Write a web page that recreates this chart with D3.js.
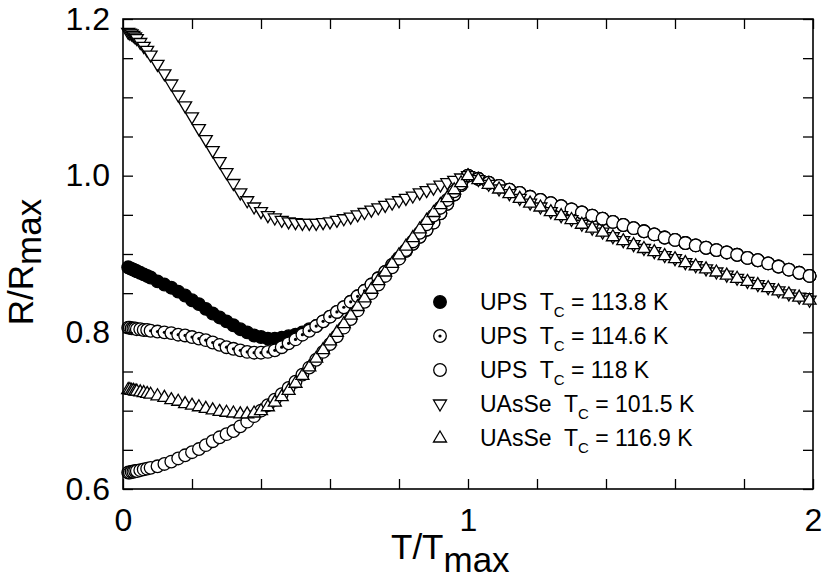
<!DOCTYPE html>
<meta charset="utf-8">
<style>
body { margin: 0; background: #fff; }
svg { font-family: "Liberation Sans", Arial, sans-serif; }
.axis path { display: none; }
.axis line { stroke: #000; stroke-width: 1.3px; }
.frame { fill: none; stroke: #000; stroke-width: 1.6px; }
</style>
<svg width="823" height="580"></svg>
<script src="https://cdn.jsdelivr.net/npm/d3@7"></script>
<script>

// T/T_max sampling below and above the peak
var xLow = [0.015, 0.02, 0.025, 0.03, 0.035, 0.04, 0.05, 0.06, 0.07, 0.08,
  0.10, 0.12, 0.14, 0.16, 0.18, 0.20, 0.22, 0.24, 0.26, 0.28,
  0.30, 0.32, 0.34, 0.36, 0.38, 0.40, 0.42, 0.44, 0.46, 0.48,
  0.50, 0.52, 0.54, 0.56, 0.58, 0.60, 0.62, 0.64, 0.66, 0.68,
  0.70, 0.72, 0.74, 0.76, 0.78, 0.80, 0.82, 0.84, 0.86, 0.88,
  0.90, 0.92, 0.94, 0.96, 0.98, 1.00];
var xHigh = [1.03, 1.06, 1.09, 1.12, 1.15, 1.18, 1.21, 1.24, 1.27, 1.30,
  1.33, 1.36, 1.39, 1.42, 1.45, 1.48, 1.51, 1.54, 1.57, 1.60,
  1.63, 1.66, 1.69, 1.72, 1.75, 1.78, 1.81, 1.84, 1.87, 1.90,
  1.93, 1.96, 1.99];

// R/R_max below T_max
var uas1015Low = [1.183, 1.182, 1.181, 1.179, 1.177, 1.175, 1.170, 1.165, 1.160, 1.154,
  1.142, 1.130, 1.117, 1.103, 1.089, 1.075, 1.060, 1.046, 1.032, 1.018,
  1.004, 0.990, 0.978, 0.968, 0.960, 0.954, 0.949, 0.946, 0.943, 0.941,
  0.940, 0.939, 0.939, 0.939, 0.940, 0.941, 0.943, 0.945, 0.947, 0.950,
  0.953, 0.956, 0.959, 0.962, 0.965, 0.968, 0.971, 0.974, 0.978, 0.981,
  0.984, 0.988, 0.991, 0.994, 0.997, 1.000];
var uas1169Low = [0.727, 0.727, 0.726, 0.726, 0.725, 0.725, 0.724, 0.723, 0.722, 0.721,
  0.719, 0.717, 0.714, 0.712, 0.709, 0.707, 0.705, 0.703, 0.701, 0.699,
  0.698, 0.697, 0.696, 0.696, 0.697, 0.700, 0.705, 0.711, 0.718, 0.726,
  0.735, 0.745, 0.756, 0.767, 0.778, 0.789, 0.800, 0.811, 0.822, 0.833,
  0.844, 0.855, 0.866, 0.877, 0.888, 0.899, 0.910, 0.921, 0.932, 0.943,
  0.953, 0.963, 0.972, 0.982, 0.991, 1.000];
var ups118Low = [0.621, 0.621, 0.622, 0.622, 0.623, 0.623, 0.624, 0.625, 0.626, 0.627,
  0.629, 0.632, 0.635, 0.639, 0.643, 0.647, 0.651, 0.656, 0.661, 0.666,
  0.670, 0.674, 0.680, 0.686, 0.693, 0.700, 0.707, 0.714, 0.721, 0.729,
  0.737, 0.746, 0.755, 0.765, 0.775, 0.785, 0.795, 0.806, 0.817, 0.828,
  0.839, 0.850, 0.861, 0.872, 0.883, 0.894, 0.905, 0.916, 0.927, 0.938,
  0.949, 0.959, 0.969, 0.980, 0.990, 1.000];
var ups1146Low = [0.806, 0.806, 0.805, 0.805, 0.805, 0.804, 0.804, 0.803, 0.803, 0.802,
  0.801, 0.800, 0.799, 0.797, 0.796, 0.794, 0.792, 0.790, 0.787, 0.784,
  0.781, 0.779, 0.777, 0.775, 0.774, 0.774, 0.775, 0.777, 0.781, 0.786,
  0.791, 0.797, 0.802, 0.808, 0.814, 0.820, 0.826, 0.832, 0.839, 0.846,
  0.853, 0.861, 0.869, 0.877, 0.886, 0.895, 0.904, 0.913, 0.922, 0.931,
  0.940, 0.952, 0.964, 0.976, 0.988, 1.000];
var ups1138Low = [0.883, 0.882, 0.881, 0.880, 0.879, 0.878, 0.876, 0.874, 0.872, 0.870,
  0.865, 0.861, 0.857, 0.852, 0.847, 0.841, 0.836, 0.830, 0.824, 0.819,
  0.814, 0.809, 0.804, 0.800, 0.796, 0.794, 0.792, 0.792, 0.793, 0.795,
  0.797, 0.800, 0.804, 0.808, 0.814, 0.820, 0.826, 0.832, 0.839, 0.846,
  0.853, 0.861, 0.869, 0.877, 0.886, 0.895, 0.904, 0.913, 0.922, 0.931,
  0.940, 0.952, 0.964, 0.976, 0.988, 1.000];

// above T_max the samples of each compound fall on one curve
var upsHigh = [0.996, 0.991, 0.987, 0.982, 0.978, 0.973, 0.969, 0.965, 0.961, 0.957,
  0.953, 0.949, 0.945, 0.941, 0.937, 0.933, 0.929, 0.925, 0.921, 0.918,
  0.914, 0.911, 0.908, 0.905, 0.902, 0.899, 0.895, 0.892, 0.888, 0.884,
  0.880, 0.876, 0.872];
var uasHigh = [0.995, 0.989, 0.983, 0.977, 0.971, 0.965, 0.960, 0.954, 0.949, 0.944,
  0.938, 0.933, 0.928, 0.922, 0.917, 0.912, 0.907, 0.903, 0.898, 0.894,
  0.889, 0.885, 0.881, 0.877, 0.873, 0.869, 0.865, 0.861, 0.857, 0.853,
  0.849, 0.845, 0.841];

var compounds = ["UPS", "UPS", "UPS", "UAsSe", "UAsSe"];
var tcValues = ["113.8", "114.6", "118", "101.5", "116.9"];
var markers = ["filled", "dotted", "open", "down", "up"];

var xTicks = [0, 0.2, 0.4, 0.6, 0.8, 1, 1.2, 1.4, 1.6, 1.8, 2];
var xLabels = [0, 1, 2];
var yTicks = [0.6, 0.65, 0.7, 0.75, 0.8, 0.85, 0.9, 0.95, 1.0, 1.05, 1.1, 1.15, 1.2];
var yLabels = [0.6, 0.8, 1.0, 1.2];

var svg = d3.select("svg"),
    plotL = 123, plotR = 813, plotT = 19, plotB = 489;

var x = d3.scaleLinear().domain([0, 2]).range([plotL, plotR]),
    y = d3.scaleLinear().domain([0.6, 1.2]).range([plotB, plotT]);

function points(xs, ys) {
  return xs.map(function(v, i) { return [v, ys[i]]; });
}

var series = [
  {marker: "filled", values: points(xLow, ups1138Low).concat(points(xHigh, upsHigh))},
  {marker: "dotted", values: points(xLow, ups1146Low).concat(points(xHigh, upsHigh))},
  {marker: "open",   values: points(xLow, ups118Low).concat(points(xHigh, upsHigh))},
  {marker: "down",   values: points(xLow, uas1015Low).concat(points(xHigh, uasHigh))},
  {marker: "up",     values: points(xLow, uas1169Low).concat(points(xHigh, uasHigh))}
];

// draw one marker of the given kind into selection g
function drawMarker(g, kind) {
  if (kind === "up" || kind === "down") {
    var s = kind === "up" ? 1 : -1;
    g.append("path")
      .attr("d", "M0," + (-7 * s) + "L6.5," + (4 * s) + "L-6.5," + (4 * s) + "Z")
      .attr("fill", "#fff").attr("stroke", "#000").attr("stroke-width", 1.3);
  } else {
    g.append("circle").attr("r", 6.3)
      .attr("fill", kind === "filled" ? "#000" : "#fff")
      .attr("stroke", "#000").attr("stroke-width", 1.3);
    if (kind === "dotted") g.append("circle").attr("r", 1.6).attr("fill", "#000");
  }
}

series.forEach(function(s) {
  svg.append("g").selectAll("g")
    .data(s.values)
    .enter().append("g")
      .attr("transform", function(d) { return "translate(" + x(d[0]) + "," + y(d[1]) + ")"; })
      .each(function() { drawMarker(d3.select(this), s.marker); });
});

// axes, ticks pointing inward on all four sides
svg.append("g").attr("class", "axis")
    .attr("transform", "translate(0," + plotB + ")")
    .call(d3.axisBottom(x).tickValues(xTicks).tickSizeInner(-10).tickSizeOuter(0).tickPadding(19)
      .tickFormat(function(d) { return xLabels.indexOf(d) >= 0 ? d : ""; }))
    .selectAll("text").style("font-size", "32px").attr("fill", "#000");

svg.append("g").attr("class", "axis")
    .attr("transform", "translate(0," + plotT + ")")
    .call(d3.axisTop(x).tickValues(xTicks).tickSizeInner(-10).tickSizeOuter(0).tickFormat(""));

svg.append("g").attr("class", "axis")
    .attr("transform", "translate(" + plotL + ",0)")
    .call(d3.axisLeft(y).tickValues(yTicks).tickSizeInner(-10).tickSizeOuter(0).tickPadding(13)
      .tickFormat(function(d) { return yLabels.indexOf(d) >= 0 ? d3.format(".1f")(d) : ""; }))
    .selectAll("text").style("font-size", "32px").attr("fill", "#000");

svg.append("g").attr("class", "axis")
    .attr("transform", "translate(" + plotR + ",0)")
    .call(d3.axisRight(y).tickValues(yTicks).tickSizeInner(-10).tickSizeOuter(0).tickFormat(""));

svg.append("rect").attr("class", "frame")
    .attr("x", plotL).attr("y", plotT)
    .attr("width", plotR - plotL).attr("height", plotB - plotT);

// axis titles
var xt = svg.append("text").attr("x", 391).attr("y", 559).style("font-size", "35px");
xt.append("tspan").text("T/T");
xt.append("tspan").attr("dy", 13).text("max");

var yt = svg.append("text")
    .attr("transform", "translate(33,262) rotate(-90)")
    .attr("text-anchor", "middle")
    .style("font-size", "35px");
yt.append("tspan").text("R/R");
yt.append("tspan").attr("dy", 8).text("max");

// legend
var legend = svg.append("g").selectAll("g")
  .data(markers)
  .enter().append("g")
    .attr("transform", function(d, i) { return "translate(440," + (302 + i * 34) + ")"; });

legend.each(function(d) { drawMarker(d3.select(this), d); });

var lt = legend.append("text")
    .attr("x", 40).attr("y", 8)
    .style("font-size", "23px")
    .style("white-space", "pre");
lt.append("tspan").text(function(d, i) { return compounds[i] + "  T"; });
lt.append("tspan").attr("dy", 7).style("font-size", "15px").text("C");
lt.append("tspan").attr("dy", -7).text(function(d, i) { return " = " + tcValues[i] + " K"; });

</script>
